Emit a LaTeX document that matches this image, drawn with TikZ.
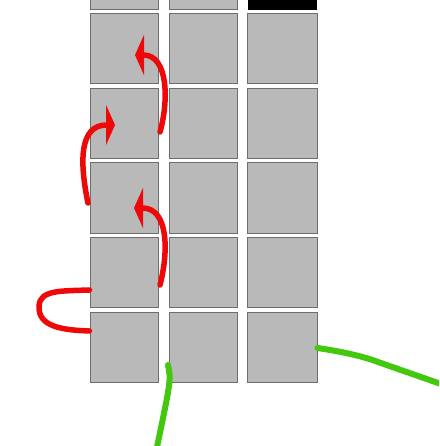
\documentclass[tikz,border=0pt]{standalone}
\usetikzlibrary{arrows.meta}
\definecolor{cellfill}{HTML}{B9B9B9}
\definecolor{celledge}{HTML}{6E6E6E}
\definecolor{arrred}{HTML}{EE0808}
\definecolor{lngreen}{HTML}{44C80E}
\tikzset{
  cell/.style={draw=celledge, fill=cellfill, line width=1pt, minimum width=68pt, minimum height=70pt, inner sep=0pt},
  darkcell/.style={cell, fill=black, draw=black},
  redarrow/.style={draw=arrred, line width=5.5pt, line cap=round, -{Triangle[width=40pt,length=9pt]}},
  redline/.style={draw=arrred, line width=5.5pt, line cap=round},
  greenline/.style={draw=lngreen, line width=6pt, line cap=round}
}
\begin{document}
\begin{tikzpicture}[x=1pt,y=-1pt]
\useasboundingbox (0,0) rectangle (439,446);
\clip (0,0) rectangle (439,446);
\fill[white] (0,0) rectangle (439,446);
% top partial row
\node[cell] (c10) at (124,-25) {};
\node[cell] (c20) at (203,-25) {};
\node[darkcell] (c30) at (282,-25) {};
% grid
\foreach \r/\y in {1/49,2/124,3/198,4/272,5/347}{
  \node[cell] (c1\r) at (124,\y) {};
  \node[cell] (c2\r) at (203,\y) {};
  \node[cell,minimum width=70pt] (c3\r) at (282,\y) {};
}
% green lines
\coordinate (g1e) at (157,447);
\coordinate (g2e) at (441,384);
\draw[greenline] ([xshift=-35pt,yshift=-18pt]c25.center) .. controls (171,380) .. (g1e);
\draw[greenline] ([yshift=-1pt]c35.east) .. controls (345,352) and (365,357) .. (378,362) -- (g2e);
% red arrows
\coordinate (aA) at (135,55);
\coordinate (aB) at (115,125);
\coordinate (aC) at (134,208);
\draw[redarrow] ([xshift=36pt,yshift=-8pt]c12.center) .. controls (169,100) and (168,55) .. (aA);
\draw[redarrow] ([xshift=-36pt,yshift=-5pt]c13.center) .. controls (79,160) and (80,125) .. (aB);
\draw[redarrow] ([xshift=36pt,yshift=-13pt]c14.center) .. controls (169,250) and (168,208) .. (aC);
% loop
\draw[redline] ([yshift=-18pt]c14.west) .. controls (60,291) and (40,290) .. (39,306)
  .. controls (38,326) and (60,330) .. ([yshift=16pt]c15.west);
\end{tikzpicture}
\end{document}
